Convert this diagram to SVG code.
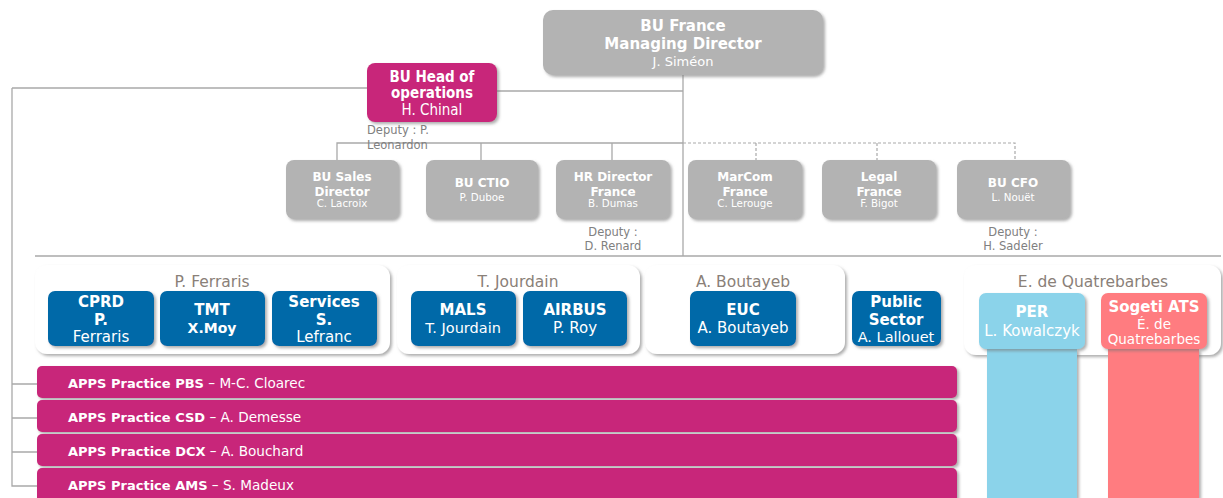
<svg xmlns="http://www.w3.org/2000/svg" width="1223" height="498" viewBox="0 0 1223 498">
<defs>
<filter id="sh" x="-10%" y="-10%" width="125%" height="135%">
<feDropShadow dx="2" dy="2" stdDeviation="1.5" flood-color="#777" flood-opacity="0.6"/>
</filter>
</defs>
<style>
.ln{fill:none;stroke:#a9a9a9;stroke-width:1.3}
.dl{fill:none;stroke:#a9a9a9;stroke-width:1.2;stroke-dasharray:3 2}
.gray{fill:#b3b3b3;filter:url(#sh)}
.mag{fill:#c8287a;filter:url(#sh)}
.blue{fill:#0069a8;filter:url(#sh)}
.panel{fill:#fff;filter:url(#sh)}
.t{font-family:"DejaVu Sans",sans-serif;fill:#fff;text-anchor:middle}
.c{font-family:"DejaVu Sans Condensed","DejaVu Sans",sans-serif;fill:#fff;text-anchor:middle}
.b{font-weight:bold}
.g{font-family:"DejaVu Sans",sans-serif;fill:#fff;text-anchor:middle;font-weight:bold;font-size:12px}
.gn{font-family:"DejaVu Sans",sans-serif;fill:#fff;text-anchor:middle;font-size:10.3px}
.dep{font-family:"DejaVu Sans",sans-serif;fill:#808080;font-size:11.5px}
.pl{font-family:"DejaVu Sans",sans-serif;fill:#8a8078;font-size:15.5px;text-anchor:middle}
.bar{font-family:"DejaVu Sans",sans-serif;fill:#fff;font-size:13.6px}
.bb{font-weight:bold;font-size:13px}
</style>

<g id="connectors">
<path class="ln" d="M683 75 V256"/>
<path class="ln" d="M12 88 H432 V91 H683"/>
<path class="ln" d="M12 88 V486 H38"/>
<path class="ln" d="M12 384 H38 M12 418 H38 M12 452 H38"/>
<path class="ln" d="M337 160 V143 H683"/>
<path class="ln" d="M481 143 V160 M612 143 V160"/>
<path class="dl" d="M683 143 H1015 V160 M756 143 V160 M877 143 V160"/>
<path class="ln" d="M35 256 H1221"/>
</g>

<g id="md">
<rect class="gray" x="543" y="10" width="280" height="65" rx="10"/>
<text class="t b" x="683" y="31" font-size="15">BU France</text>
<text class="t b" x="683" y="49" font-size="15">Managing Director</text>
<text class="t" x="683" y="66" font-size="13">J. Siméon</text>
</g>

<g id="headops">
<rect class="mag" x="367" y="63" width="130" height="59" rx="8"/>
<text class="c b" x="432" y="82" font-size="15">BU Head of</text>
<text class="c b" x="432" y="98" font-size="15">operations</text>
<text class="c" x="432" y="115" font-size="15">H. Chinal</text>
<text class="dep" x="367" y="134">Deputy : P.</text>
<text class="dep" x="367" y="149">Leonardon</text>
</g>

<g id="sales">
<rect class="gray" x="286" y="160" width="113" height="59" rx="8"/>
<text class="g" x="342" y="181">BU Sales</text>
<text class="g" x="342" y="196">Director</text>
<text class="gn" x="342" y="207">C. Lacroix</text>
</g>
<g id="ctio">
<rect class="gray" x="426" y="160" width="112" height="59" rx="8"/>
<text class="g" x="482" y="187">BU CTIO</text>
<text class="gn" x="482" y="201" font-size="11.5">P. Duboe</text>
</g>
<g id="hr">
<rect class="gray" x="556" y="160" width="114" height="59" rx="8"/>
<text class="g" x="613" y="181">HR Director</text>
<text class="g" x="613" y="196">France</text>
<text class="gn" x="613" y="207">B. Dumas</text>
<text class="dep" x="613" y="236" text-anchor="middle">Deputy :</text>
<text class="dep" x="613" y="250" text-anchor="middle">D. Renard</text>
</g>
<g id="marcom">
<rect class="gray" x="688" y="160" width="114" height="59" rx="8"/>
<text class="g" x="745" y="181">MarCom</text>
<text class="g" x="745" y="196">France</text>
<text class="gn" x="745" y="207">C. Lerouge</text>
</g>
<g id="legal">
<rect class="gray" x="822" y="160" width="114" height="59" rx="8"/>
<text class="g" x="879" y="181">Legal</text>
<text class="g" x="879" y="196">France</text>
<text class="gn" x="879" y="207">F. Bigot</text>
</g>
<g id="cfo">
<rect class="gray" x="957" y="160" width="113" height="59" rx="8"/>
<text class="g" x="1013" y="187">BU CFO</text>
<text class="gn" x="1013" y="201" font-size="11">L. Nouët</text>
<text class="dep" x="1013" y="236" text-anchor="middle">Deputy :</text>
<text class="dep" x="1013" y="250" text-anchor="middle">H. Sadeler</text>
</g>

<g id="panel-ferraris">
<rect class="panel" x="35" y="265" width="355" height="89" rx="12"/>
<text class="pl" x="212" y="287">P. Ferraris</text>
</g>
<g id="panel-jourdain">
<rect class="panel" x="397" y="265" width="243" height="89" rx="12"/>
<text class="pl" x="518" y="287">T. Jourdain</text>
</g>
<g id="panel-boutayeb">
<rect class="panel" x="645" y="265" width="200" height="89" rx="12"/>
<text class="pl" x="743" y="287">A. Boutayeb</text>
</g>
<g id="panel-quatrebarbes">
<rect class="panel" x="964" y="265" width="257" height="90" rx="12"/>
<text class="pl" x="1093" y="287">E. de Quatrebarbes</text>
</g>

<g id="cprd">
<rect class="blue" x="48" y="291" width="106" height="55" rx="7"/>
<text class="t b" x="101" y="307" font-size="15">CPRD</text>
<text class="t b" x="101" y="325" font-size="15">P.</text>
<text class="t" x="101" y="342" font-size="15">Ferraris</text>
</g>
<g id="tmt">
<rect class="blue" x="160" y="291" width="105" height="55" rx="7"/>
<text class="t b" x="212" y="315" font-size="15">TMT</text>
<text class="t b" x="212" y="333" font-size="14">X.Moy</text>
</g>
<g id="services">
<rect class="blue" x="272" y="291" width="105" height="55" rx="7"/>
<text class="t b" x="324" y="307" font-size="15">Services</text>
<text class="t b" x="324" y="325" font-size="15">S.</text>
<text class="t" x="324" y="342" font-size="15">Lefranc</text>
</g>
<g id="mals">
<rect class="blue" x="411" y="291" width="105" height="55" rx="7"/>
<text class="t b" x="463" y="315" font-size="15">MALS</text>
<text class="t" x="463" y="333" font-size="14.5">T. Jourdain</text>
</g>
<g id="airbus">
<rect class="blue" x="523" y="291" width="104" height="55" rx="7"/>
<text class="t b" x="575" y="315" font-size="15">AIRBUS</text>
<text class="t" x="575" y="333" font-size="15">P. Roy</text>
</g>
<g id="euc">
<rect class="blue" x="690" y="291" width="106" height="55" rx="7"/>
<text class="t b" x="743" y="315" font-size="15">EUC</text>
<text class="t" x="743" y="333" font-size="15">A. Boutayeb</text>
</g>
<g id="public">
<rect class="blue" x="852" y="291" width="89" height="55" rx="7"/>
<text class="t b" x="896" y="307" font-size="15">Public</text>
<text class="t b" x="896" y="325" font-size="15">Sector</text>
<text class="t" x="896" y="342" font-size="14.5">A. Lallouet</text>
</g>
<g id="per">
<rect x="987" y="349" width="90" height="149" fill="#8bd3ea" filter="url(#sh)"/>
<rect x="979" y="293" width="106" height="56" rx="7" fill="#8bd3ea" filter="url(#sh)"/>
<text class="t b" x="1032" y="317" font-size="15">PER</text>
<text class="t" x="1032" y="336" font-size="15">L. Kowalczyk</text>
</g>
<g id="sogeti">
<rect x="1108" y="349" width="91" height="149" fill="#ff7c80" filter="url(#sh)"/>
<rect x="1101" y="293" width="106" height="56" rx="7" fill="#ff7c80" filter="url(#sh)"/>
<text class="t b" x="1154" y="312" font-size="15">Sogeti ATS</text>
<text class="t" x="1154" y="329" font-size="13.5">É. de</text>
<text class="t" x="1154" y="344" font-size="13.5">Quatrebarbes</text>
</g>

<g id="pbs">
<rect class="mag" x="37" y="366" width="920" height="32" rx="5"/>
<text class="bar" x="68" y="388"><tspan class="bb">APPS Practice PBS</tspan> – M-C. Cloarec</text>
</g>
<g id="csd">
<rect class="mag" x="37" y="400" width="920" height="32" rx="5"/>
<text class="bar" x="68" y="422"><tspan class="bb">APPS Practice CSD</tspan> – A. Demesse</text>
</g>
<g id="dcx">
<rect class="mag" x="37" y="434" width="920" height="32" rx="5"/>
<text class="bar" x="68" y="456"><tspan class="bb">APPS Practice DCX</tspan> – A. Bouchard</text>
</g>
<g id="ams">
<rect class="mag" x="37" y="468" width="920" height="40" rx="5"/>
<text class="bar" x="68" y="490"><tspan class="bb">APPS Practice AMS</tspan> – S. Madeux</text>
</g>
</svg>
